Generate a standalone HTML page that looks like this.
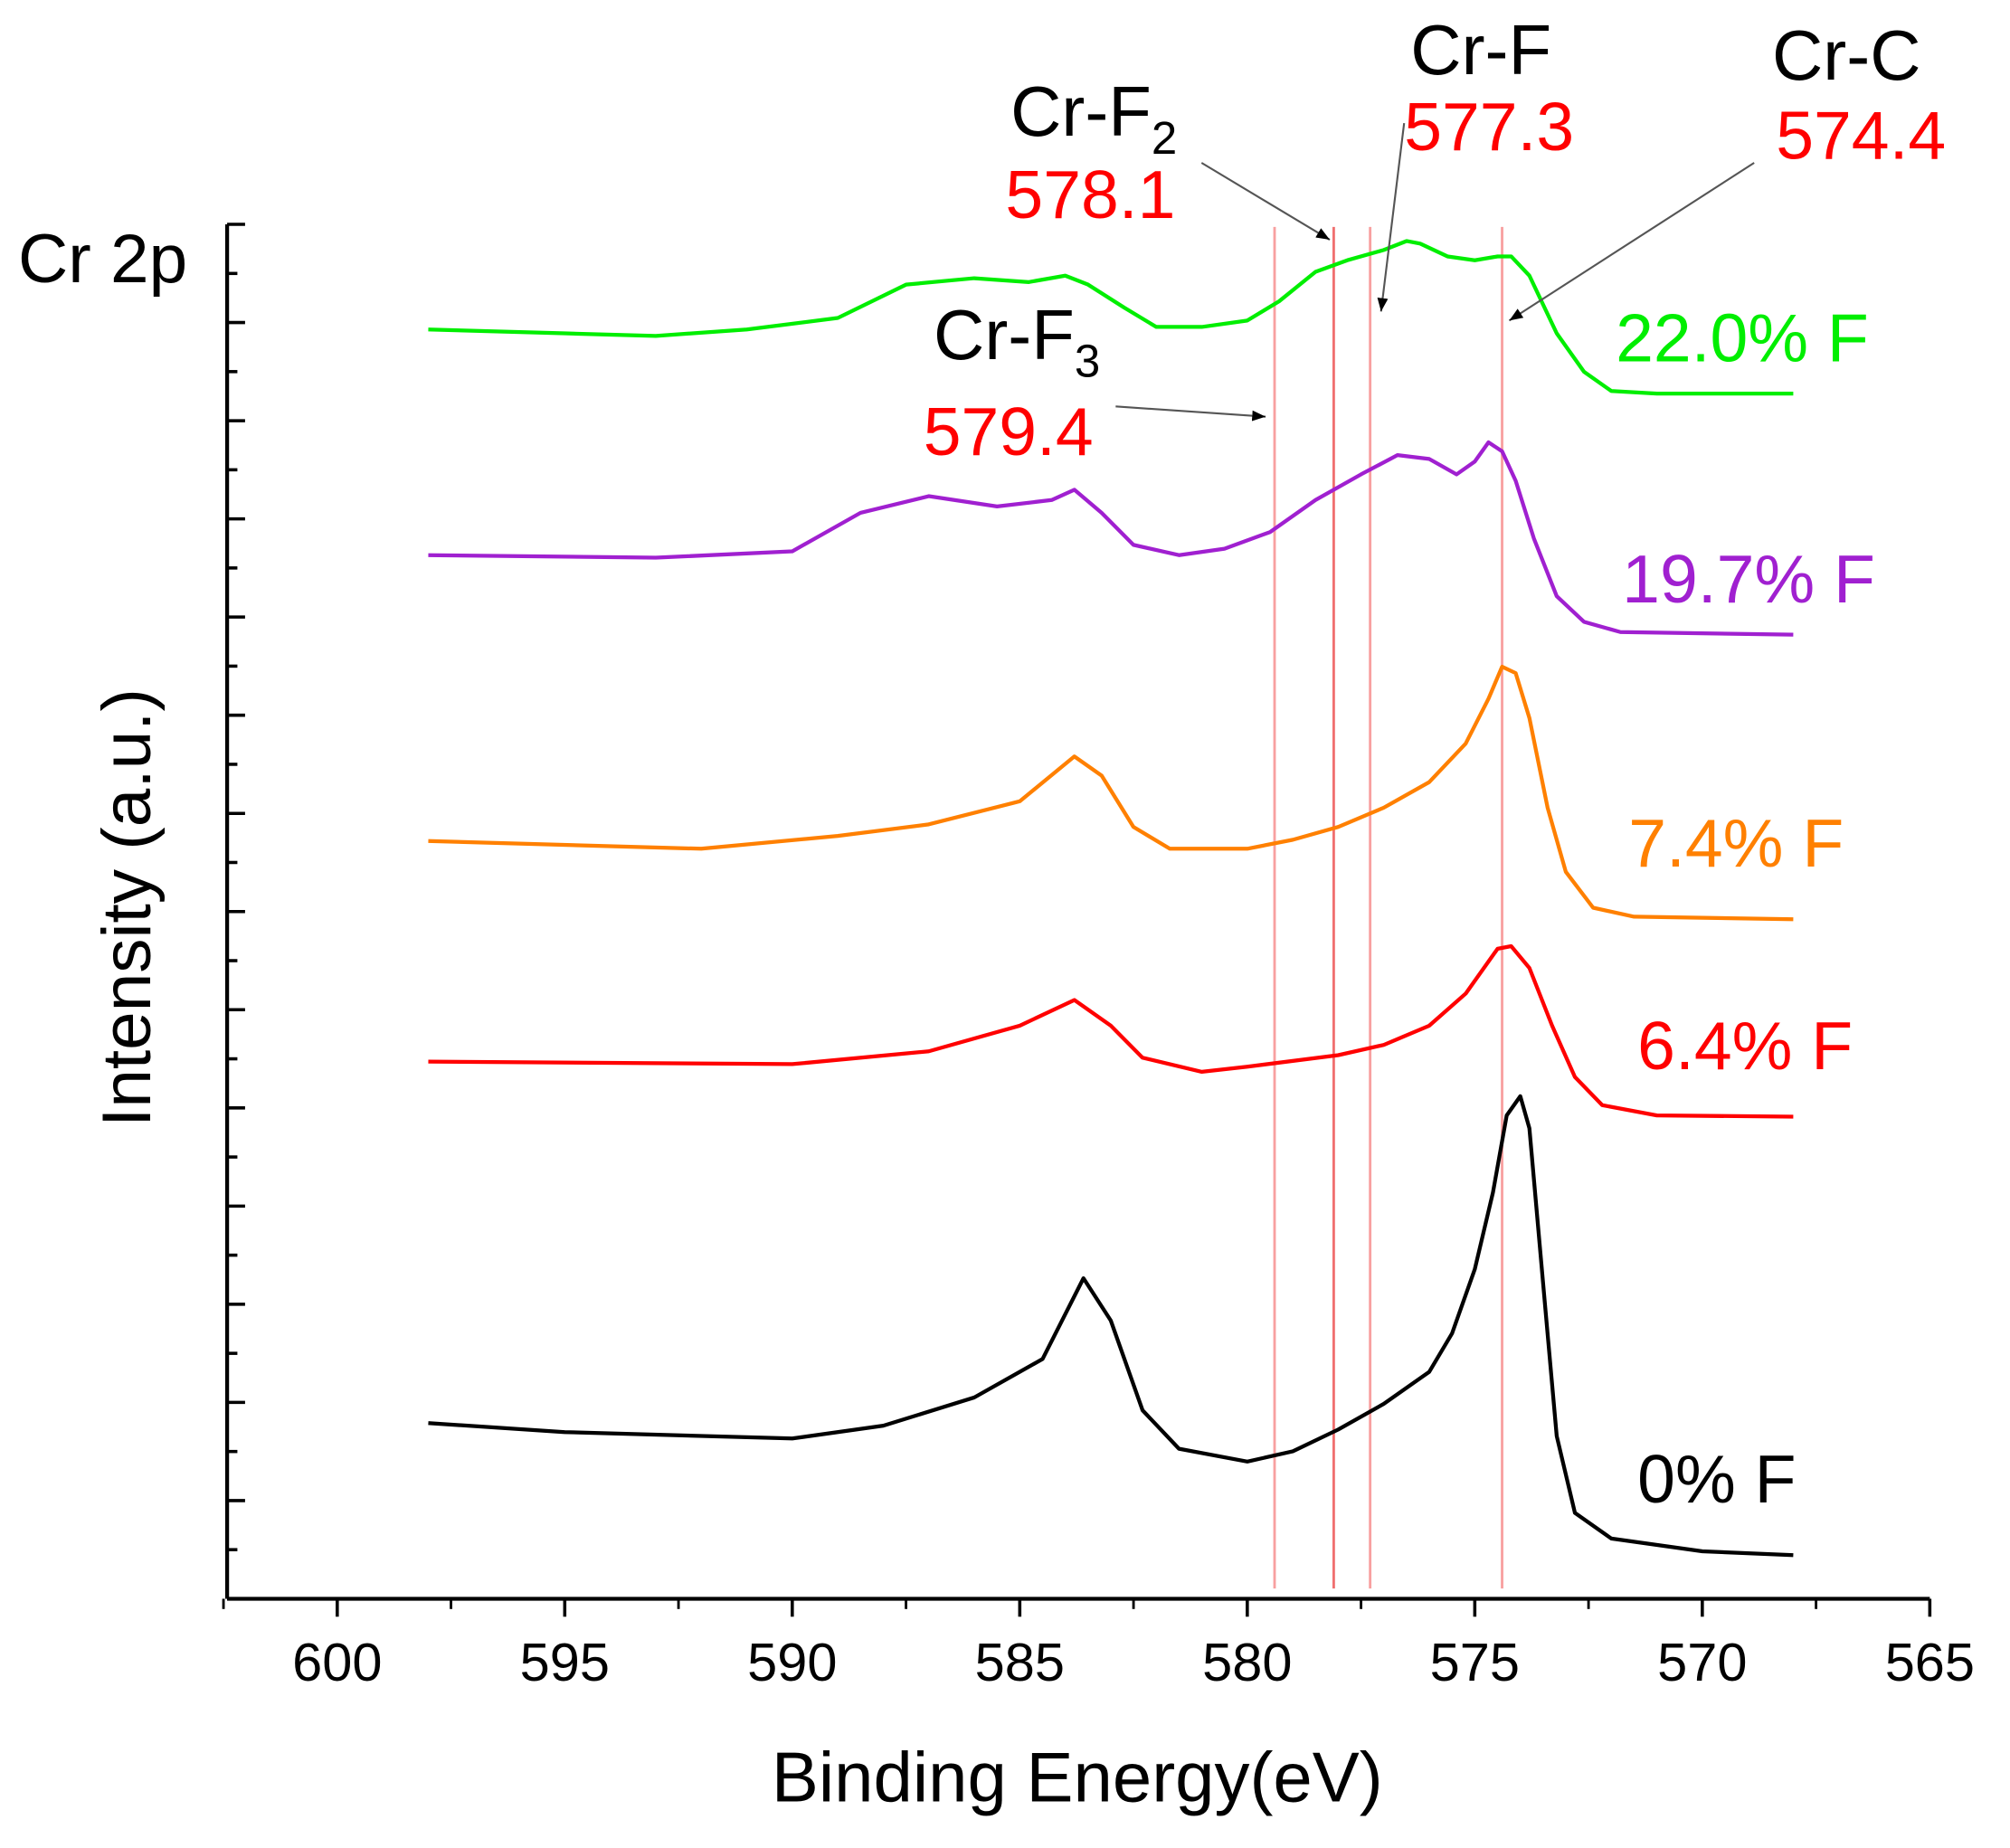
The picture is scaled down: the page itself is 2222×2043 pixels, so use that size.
<!DOCTYPE html>
<html><head><meta charset="utf-8"><style>
html,body{margin:0;padding:0;background:#fff;}
svg{display:block;font-family:"Liberation Sans",sans-serif;}
</style></head><body>
<svg id="chart" width="2222" height="2043" viewBox="0 0 1567.4 1441.4" xmlns="http://www.w3.org/2000/svg">
<defs><marker id="ah" viewBox="0 0 10 10" refX="10" refY="5" markerWidth="7" markerHeight="7" orient="auto-start-reverse"><path d="M0,1 L10,5 L0,9 Z" fill="#000"/></marker></defs>
<g id="axes"></g>
<g id="refs"></g>
<g id="series"></g>
<g font-size="53">
<text x="14" y="220" font-size="54">Cr 2p</text>
<text transform="translate(117,708) rotate(-90)" text-anchor="middle" font-size="54">Intensity (a.u.)</text>
<text x="840" y="1405" text-anchor="middle" font-size="55">Binding Energy(eV)</text>
<text x="788" y="106" font-size="55">Cr-F<tspan font-size="36" dy="14">2</tspan></text>
<text x="784" y="170" fill="#ff0000">578.1</text>
<text x="1100" y="58" font-size="55">Cr-F</text>
<text x="1095" y="117" fill="#ff0000">577.3</text>
<text x="1382" y="62" font-size="55">Cr-C</text>
<text x="1385" y="124" fill="#ff0000">574.4</text>
<text x="728" y="280" font-size="55">Cr-F<tspan font-size="36" dy="14">3</tspan></text>
<text x="720" y="355" fill="#ff0000">579.4</text>
<line x1="937" y1="127" x2="1037" y2="187" stroke="#555" stroke-width="1.5" marker-end="url(#ah)"/>
<line x1="1095" y1="96" x2="1077" y2="243" stroke="#555" stroke-width="1.5" marker-end="url(#ah)"/>
<line x1="1368" y1="127" x2="1177" y2="250" stroke="#555" stroke-width="1.5" marker-end="url(#ah)"/>
<line x1="870" y1="317" x2="987" y2="325" stroke="#555" stroke-width="1.5" marker-end="url(#ah)"/>
<text x="1260" y="282" fill="#00ee00">22.0% F</text>
<text x="1265" y="470" fill="#a020d0">19.7% F</text>
<text x="1270" y="676" fill="#ff8000">7.4% F</text>
<text x="1277" y="834" fill="#ff0000">6.4% F</text>
<text x="1277" y="1172" fill="#000">0% F</text>
</g>
</svg>
<script>
const xTicks = [600, 595, 590, 585, 580, 575, 570, 565];
const refEnergies = [579.4, 578.1, 577.3, 574.4];
const seriesNames = ["0% F", "6.4% F", "7.4% F", "19.7% F", "22.0% F"];
const seriesColors = ["#000000", "#ff0000", "#ff8000", "#a020d0", "#00ee00"];
const energy0 = [598,595,590,588,586,584.5,583.6,583,582.3,581.5,580,579,578,577,576,575.5,575,574.6,574.3,574.0,573.8,573.5,573.2,572.8,572,570,568];
const int0 = [137,130,125,135,157,187,250,217,147,117,107,115,132,152,177,207,257,317,377,392,367,247,127,67,47,37,34];
const energy1 = [598,590,587,585,583.8,583,582.3,581,580,578,577,576,575.2,574.5,574.2,573.8,573.3,572.8,572.2,571,568];
const int1 = [419,417,427,447,467,447,422,411,415,424,432,447,472,507,509,492,447,407,385,377,376];
const energy2 = [598,592,589,587,585,583.8,583.2,582.5,581.7,580,579,578,577,576,575.2,574.7,574.4,574.1,573.8,573.4,573,572.4,571.5,568];
const int2 = [591,585,595,604,622,657,642,602,585,585,592,602,617,637,667,702,727,722,687,617,567,539,532,530];
const energy3 = [598,593,590,588.5,587,585.5,584.3,583.8,583.2,582.5,581.5,580.5,579.5,578.5,577.5,576.7,576,575.4,575,574.7,574.4,574.1,573.7,573.2,572.6,571.8,568];
const int3 = [814,812,817,847,860,852,857,865,847,822,814,819,832,857,877,892,889,877,887,902,895,872,827,782,762,754,752];
const energy4 = [598,595,593,591,589,587.5,586,584.8,584,583.5,582.7,582,581,580,579.3,578.5,577.8,577,576.5,576.2,575.6,575,574.5,574.2,573.8,573.2,572.6,572,571,568];
const int4 = [990,987,985,990,999,1025,1030,1027,1032,1025,1007,992,992,997,1012,1035,1044,1052,1059,1057,1047,1044,1047,1047,1032,987,957,942,940,940];
const energies = [energy0, energy1, energy2, energy3, energy4];
const intensities = [int0, int1, int2, int3, int4];

const NS = "http://www.w3.org/2000/svg";
const plotL = 177, plotR = 1505, plotT = 175, plotB = 1247;
const xMin = 602.42, xMax = 565;
const yMin = 0, yMax = 1072;
function xs(e){ return plotL + (xMin - e) / (xMin - xMax) * (plotR - plotL); }
function ys(v){ return plotB - (v - yMin) / (yMax - yMin) * (plotB - plotT); }
function mk(tag, attrs, parent){ const el = document.createElementNS(NS, tag); for (const k in attrs) el.setAttribute(k, attrs[k]); parent.appendChild(el); return el; }

const axes = document.getElementById('axes');
let a = mk('line', {x1:plotL, y1:plotT, x2:plotL, y2:plotB, stroke:'#000', 'stroke-width':3}, axes);


a = mk('line', {x1:plotL, y1:plotB, x2:plotR, y2:plotB, stroke:'#000', 'stroke-width':3}, axes);


for (let i = 0; i < xTicks.length; i++) {
  const x = xs(xTicks[i]);
  const t = mk('line', {x1:x, y1:plotB, x2:x, y2:plotB + 14, stroke:'#000', 'stroke-width':2.5}, axes);
  
  
  const lb = mk('text', {x:x, y:plotB + 64, 'text-anchor':'middle', 'font-size':42}, axes);
  lb.textContent = xTicks[i];
  
  
  if (i < xTicks.length - 1) {
    const xm = xs(xTicks[i] - 2.5);
    const m = mk('line', {x1:xm, y1:plotB, x2:xm, y2:plotB + 8, stroke:'#000', 'stroke-width':2}, axes);
    
    
  }
}
{ const xm = xs(xTicks[0] + 2.5);
  const m = mk('line', {x1:xm, y1:plotB, x2:xm, y2:plotB + 8, stroke:'#000', 'stroke-width':2}, axes);
  
   }
for (let k = 0; k <= 28; k++) {
  const y = plotT + k * (plotB - plotT) / 28;
  const len = (k % 2 === 0) ? 14 : 8;
  const t = mk('line', {x1:plotL, y1:y, x2:plotL + len, y2:y, stroke:'#000', 'stroke-width':2.5}, axes);
  
  
}

const refs = document.getElementById('refs');
refEnergies.forEach((e, i) => {
  const l = mk('line', {x1:xs(e), y1:plotT + 2, x2:xs(e), y2:plotB - 8, stroke: i === 1 ? '#f07070' : '#f8a0a0', 'stroke-width':2}, refs);
  
  
});

const sg = document.getElementById('series');
for (let s = 0; s < energies.length; s++) {
  const d = energies[s].map((e, i) => (i ? 'L' : 'M') + xs(e).toFixed(1) + ',' + ys(intensities[s][i]).toFixed(1)).join(' ');
  const p = mk('path', {d:d, fill:'none', stroke:seriesColors[s], 'stroke-width':3, 'stroke-linejoin':'round'}, sg);
  
  
}
</script>
</body></html>
